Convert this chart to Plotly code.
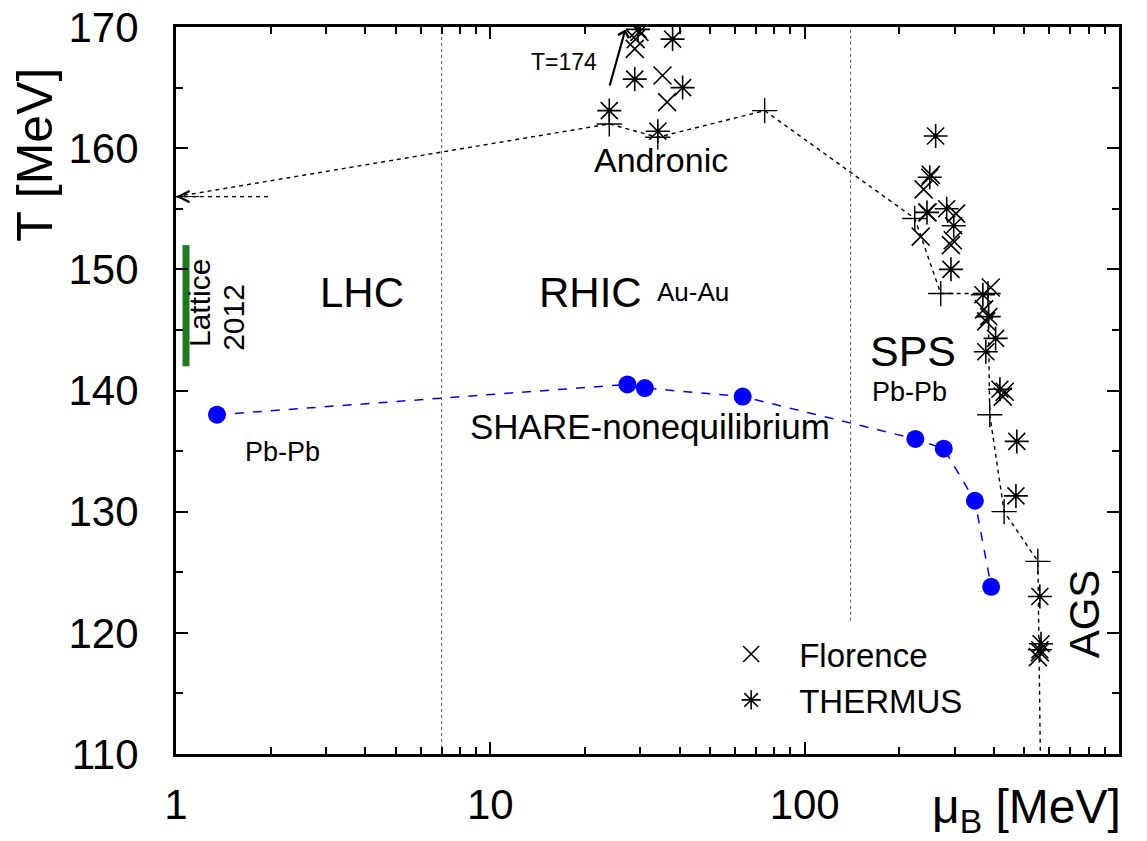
import numpy as np
import plotly.graph_objects as go

# ---- data (mu_B in MeV, T in MeV) ----
share_mu = [1.35, 27.3, 31.0, 63.5, 225.0, 277.0, 348.0, 392.0]
share_T = [138.0, 140.5, 140.2, 139.5, 136.0, 135.2, 130.9, 123.8]

andronic_mu = [1.0, 23.9, 34.1, 74.6, 224.0, 271.0, 383.0, 388.0, 431.0, 552.0, 562.0]
andronic_T = [156.0, 162.0, 160.9, 163.1, 154.2, 148.0, 148.0, 138.0, 130.0, 125.9, 110.0]

florence_mu = [29.0, 28.8, 29.8, 35.3, 36.5, 252.0, 239.0, 246.0, 303.0, 296.0, 292.0,
               234.0, 391.0, 372.0, 378.0, 433.0, 427.0, 560.0, 552.0]
florence_T = [169.0, 168.2, 169.6, 166.0, 163.8, 157.8, 156.6, 154.7, 154.6, 152.4, 152.0,
              152.7, 148.5, 146.7, 145.7, 139.9, 139.5, 118.4, 118.0]

thermus_mu = [23.9, 28.8, 38.0, 40.9, 34.1, 29.5, 261.0, 250.0, 245.0, 283.0, 298.0, 292.0,
              369.0, 385.0, 405.0, 377.0, 418.0, 473.0, 470.0, 560.0, 565.0, 560.0]
thermus_T = [163.1, 165.7, 169.0, 165.0, 161.4, 169.8, 161.0, 157.6, 154.7, 155.0, 153.6, 150.0,
             147.9, 146.1, 144.3, 143.2, 140.1, 135.8, 131.3, 123.0, 119.1, 118.6]

boundary_mu = [7.0, 140.0]          # dotted LHC/RHIC/SPS separators
boundary_top = [170.0, 170.0]
boundary_bottom = [110.0, 121.0]

lattice_mu = 1.076
lattice_T = [142.0, 152.0]

FONT = "Liberation Sans, Arial, sans-serif"

fig = go.Figure()

# separators
for mu, y0, y1 in zip(boundary_mu, boundary_bottom, boundary_top):
    fig.add_trace(go.Scatter(
        x=[mu, mu], y=[y0, y1], mode='lines', showlegend=False,
        line=dict(color='#555555', width=1, dash='dot')
    ))

# lattice band
fig.add_trace(go.Scatter(
    x=[lattice_mu, lattice_mu], y=lattice_T, mode='lines', showlegend=False,
    line=dict(color='#1e7a1e', width=7)
))

# Andronic curve
fig.add_trace(go.Scatter(
    x=andronic_mu, y=andronic_T, mode='lines', showlegend=False,
    line=dict(color='black', width=1.4, dash='4px,4px')
))
fig.add_trace(go.Scatter(
    x=andronic_mu[1:-1], y=andronic_T[1:-1], mode='markers', showlegend=False,
    marker=dict(symbol='cross-thin-open', size=18, color='black', line=dict(width=1.4))
))
# short dashed stub of the arrow at the left edge
fig.add_trace(go.Scatter(
    x=[andronic_mu[0], 2.0], y=[andronic_T[0], andronic_T[0]], mode='lines', showlegend=False,
    line=dict(color='black', width=1.4, dash='4px,4px')
))

# SHARE non-equilibrium
fig.add_trace(go.Scatter(
    x=share_mu, y=share_T, mode='lines+markers', showlegend=False,
    line=dict(color='blue', width=1.5, dash='dash'),
    marker=dict(symbol='circle', size=18, color='blue')
))

# Florence / THERMUS
fig.add_trace(go.Scatter(
    x=florence_mu, y=florence_T, mode='markers', name='Florence',
    marker=dict(symbol='x-thin-open', size=18, color='black', line=dict(width=1.6))
))
fig.add_trace(go.Scatter(
    x=thermus_mu, y=thermus_T, mode='markers', name='THERMUS',
    marker=dict(symbol='asterisk-open', size=20, color='black', line=dict(width=1.6))
))

def note(text, mu, T, size, angle=0, **kw):
    fig.add_annotation(x=np.log10(mu), y=T, text=text, showarrow=False,
                       textangle=angle, font=dict(size=size, color='black', family=FONT), **kw)

note('LHC', 3.91, 148.1, 42)
note('RHIC', 20.8, 148.1, 42)
note('Au-Au', 44.0, 148.1, 26)
note('Andronic', 34.8, 159.0, 34)
note('SHARE-nonequilibrium', 32.3, 137.0, 35)
note('Pb-Pb', 2.18, 134.9, 27)
note('SPS', 221.0, 143.3, 43)
note('Pb-Pb', 216.0, 139.9, 27)
note('AGS', 779.0, 121.6, 42, angle=-90)
note('Lattice', 1.19, 147.2, 30, angle=-90)
note('2012', 1.53, 146.0, 30, angle=-90)
note('T=174', 17.2, 167.1, 23)

# arrow towards T=174
fig.add_annotation(x=np.log10(26.9), y=169.8, ax=np.log10(23.9), ay=165.05,
                   axref='x', ayref='y', text='', showarrow=True,
                   arrowhead=4, arrowsize=1, arrowwidth=2.2, arrowcolor='black')
# open arrowhead at mu=1
fig.add_annotation(x=0, y=andronic_T[0], ax=np.log10(1.2), ay=andronic_T[0],
                   axref='x', ayref='y', text='', showarrow=True,
                   arrowhead=5, arrowsize=2.2, arrowwidth=1, arrowcolor='black')

# axis titles as free text
fig.add_annotation(x=-0.149, y=0.825, xref='paper', yref='paper', xanchor='center', yanchor='middle',
                   text='T [MeV]', showarrow=False, textangle=-90,
                   font=dict(size=50, family=FONT, color='black'))
fig.add_annotation(x=1.004, y=-0.077, xref='paper', yref='paper', xanchor='right', yanchor='middle',
                   text='\u03bc<sub>B</sub> [MeV]', showarrow=False,
                   font=dict(size=48, family=FONT, color='black'))

axis_common = dict(
    showline=True, linecolor='black', linewidth=3, mirror='ticks',
    ticks='inside', ticklen=12, tickwidth=2, tickcolor='black',
    showgrid=False, zeroline=False, automargin=False, ticklabeloverflow='allow',
    tickfont=dict(size=42, family=FONT, color='black'),
)

fig.update_layout(
    width=1147, height=841,
    plot_bgcolor='white', paper_bgcolor='white',
    margin=dict(l=168, r=36, t=19, b=95),
    font=dict(family=FONT, color='black'),
    xaxis=dict(type='log', range=[0, 3], tickmode='array', tickvals=[1, 10, 100],
               ticktext=['1', '10', '100'], ticklabelstandoff=12,
               minor=dict(dtick='D1', ticks='inside', ticklen=7, tickwidth=2, tickcolor='black'),
               **axis_common),
    yaxis=dict(range=[110, 170], dtick=10, ticklabelstandoff=26,
               minor=dict(dtick=5, ticks='inside', ticklen=7, tickwidth=2, tickcolor='black'),
               **axis_common),
    legend=dict(x=0.559, y=0.176, xanchor='left', yanchor='top', bgcolor='rgba(0,0,0,0)',
                font=dict(size=33, family=FONT, color='black'), itemwidth=86,
                tracegroupgap=0),
    showlegend=True,
)

fig.write_html("out.html")
